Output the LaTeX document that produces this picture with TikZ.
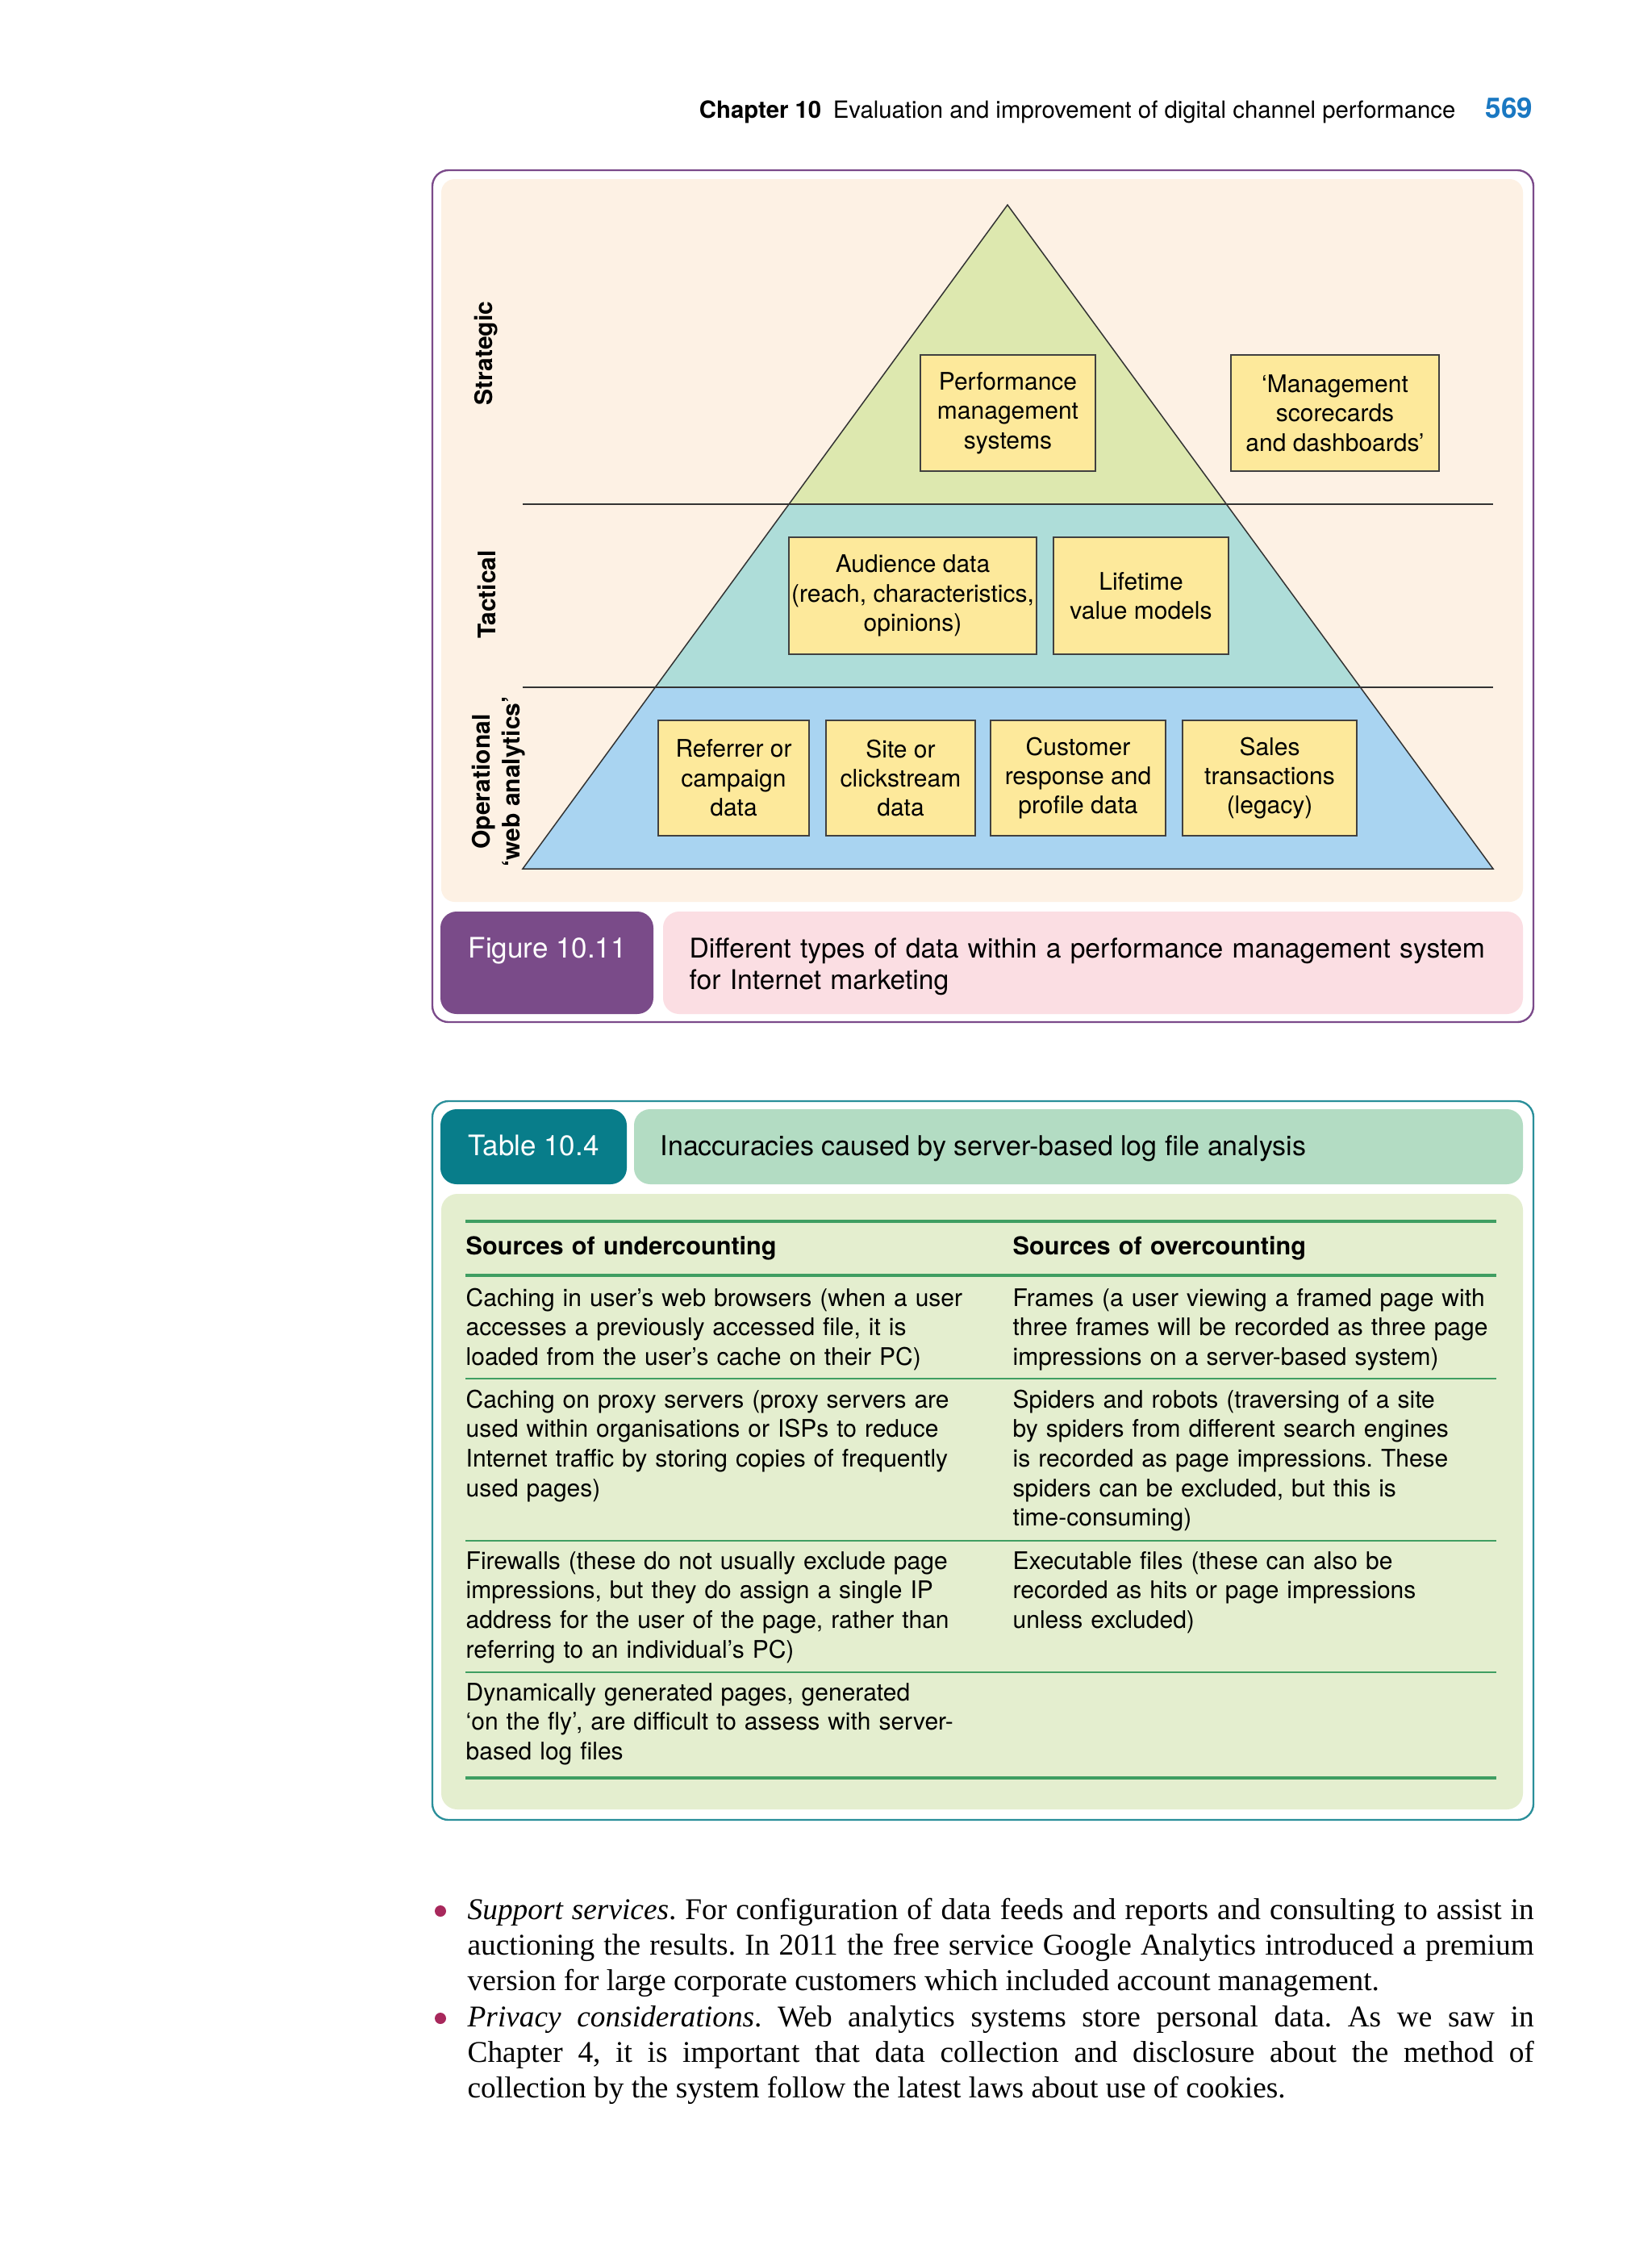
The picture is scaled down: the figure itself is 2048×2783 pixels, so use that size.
\documentclass[tikz,border=0pt]{standalone}
\usepackage{fontspec}
\setmainfont{Liberation Serif}
\newfontfamily\bodyserif{Liberation Serif}[FakeStretch=1.0]
\setsansfont{TeX Gyre Heros}
\definecolor{framepurple}{HTML}{7B4A8A}
\definecolor{labelpurple}{HTML}{7A4B89}
\definecolor{captionpink}{HTML}{FBDEE3}
\definecolor{cream}{HTML}{FDF1E4}
\definecolor{stratgreen}{HTML}{DDE8AF}
\definecolor{tactteal}{HTML}{AEDDD9}
\definecolor{operblue}{HTML}{A9D4F1}
\definecolor{boxyellow}{HTML}{FDE99B}
\definecolor{tealdark}{HTML}{087D8A}
\definecolor{tealframe}{HTML}{2A8F9A}
\definecolor{titlegreen}{HTML}{B3DCC3}
\definecolor{tablebg}{HTML}{E4EECF}
\definecolor{tline}{HTML}{3F9E62}
\definecolor{pagenum}{HTML}{1A78C2}
\definecolor{bulletmag}{HTML}{A8285C}
\begin{document}
\frenchspacing
\begin{tikzpicture}[x=0.3pt,y=-0.3pt,
  databox/.style={draw=black!75, line width=0.45pt, fill=boxyellow, align=center, inner sep=0pt,
    font=\sffamily\fontsize{9}{10.9}\selectfont},
  sidelabel/.style={rotate=90, align=center, font=\sffamily\bfseries\fontsize{9}{11}\selectfont},
  cell/.style={anchor=base west, inner sep=0pt, text width=200pt, align=left,
    font=\sffamily\fontsize{9}{11}\selectfont},
  headcell/.style={cell, font=\sffamily\bfseries\fontsize{9.2}{11}\selectfont},
  thickrule/.style={draw=tline, line width=1.2pt},
  thinrule/.style={draw=tline, line width=0.6pt},
  bullettext/.style={anchor=base west, inner sep=0pt, text width=396.6pt, align=justify,
    font=\frenchspacing\bodyserif\fontsize{11.2}{13.3}\selectfont},
  bulletdot/.style={circle, fill=bulletmag, inner sep=0pt, minimum size=4.2pt}
]
\useasboundingbox (0,0) rectangle (2048,2783);
\fill[white] (0,0) rectangle (2048,2783);

% ---------- running head ----------
\node[anchor=base east, inner sep=0pt, font=\sffamily\fontsize{8.8}{11}\selectfont] (runhead) at (1805,146)
  {\textbf{Chapter 10}\hspace{0.5em}Evaluation and improvement of digital channel performance};
\node[anchor=base east, inner sep=0pt, text=pagenum, font=\sffamily\bfseries\fontsize{10.5}{12}\selectfont] (pgnum) at (1901,146) {569};

% ---------- Figure 10.11 ----------
\draw[framepurple, line width=0.7pt, rounded corners=6pt] (536,211) rectangle (1901,1267);
\fill[cream, rounded corners=5pt] (547,222) rectangle (1888,1118);

\begin{scope}
  \clip (1249,254) -- (1851,1077) -- (648,1077) -- cycle;
  \fill[stratgreen] (600,240) rectangle (1900,625);
  \fill[tactteal] (600,625) rectangle (1900,852);
  \fill[operblue] (600,852) rectangle (1900,1090);
\end{scope}
\draw[black!80, line width=0.45pt] (1249,254) -- (1851,1077) -- (648,1077) -- cycle;
\draw[black!80, line width=0.45pt] (648,625) -- (1851,625);
\draw[black!80, line width=0.45pt] (648,852) -- (1851,852);

\node[sidelabel] (lstrat) at (603,438) {Strategic};
\node[sidelabel] (ltact) at (603,737) {Tactical};
\node[sidelabel] (loper) at (618,969) {Operational\\`web analytics'};

\node[databox, minimum width=65.1pt, minimum height=43.2pt] (perf) at (1249.5,512) {Performance\\management\\systems};
\node[databox, minimum width=77.4pt, minimum height=43.2pt] (mgmt) at (1655,512) {`Management\\scorecards\\and dashboards'};
\node[databox, minimum width=92.1pt, minimum height=43.5pt] (aud) at (1131.5,738.5) {Audience data\\(reach, characteristics,\\opinions)};
\node[databox, minimum width=65.1pt, minimum height=43.5pt] (ltv) at (1414.5,738.5) {Lifetime\\value models};
\node[databox, minimum width=56.1pt, minimum height=42.9pt] (ref) at (909.5,964.5) {Referrer or\\campaign\\data};
\node[databox, minimum width=55.5pt, minimum height=42.9pt] (site) at (1116.5,964.5) {Site or\\clickstream\\data};
\node[databox, minimum width=65.1pt, minimum height=42.9pt] (cust) at (1336.5,964.5) {Customer\\response and\\profile data};
\node[databox, minimum width=64.8pt, minimum height=42.9pt] (sales) at (1574,964.5) {Sales\\transactions\\(legacy)};

\fill[labelpurple, rounded corners=6pt] (546,1130) rectangle (810,1257);
\fill[captionpink, rounded corners=6pt] (822,1130) rectangle (1888,1257);
\node[anchor=base west, inner sep=0pt, text=white, font=\sffamily\fontsize{10.5}{12}\selectfont] (figlabel) at (580,1187) {Figure 10.11};
\node[anchor=base west, inner sep=0pt, text width=310pt, align=left, font=\sffamily\fontsize{10.1}{11.7}\selectfont] (figcap) at (854,1187)
  {Different types of data within a performance management system\\for Internet marketing};

% ---------- Table 10.4 ----------
\draw[tealframe, line width=0.7pt, rounded corners=6pt] (536,1365) rectangle (1901,2256);
\fill[tealdark, rounded corners=6pt] (546,1375) rectangle (777,1468);
\fill[titlegreen, rounded corners=6pt] (786,1375) rectangle (1888,1468);
\fill[tablebg, rounded corners=6pt] (547,1480) rectangle (1888,2243);
\node[anchor=base west, inner sep=0pt, text=white, font=\sffamily\fontsize{10.5}{12}\selectfont] (tablabel) at (580,1432) {Table 10.4};
\node[anchor=base west, inner sep=0pt, font=\sffamily\fontsize{10.2}{12}\selectfont] (tabtitle) at (818,1432) {Inaccuracies caused by server-based log file analysis};

\draw[thickrule] (577,1514) -- (1855,1514);
\draw[thickrule] (577,1581) -- (1855,1581);
\draw[thinrule] (577,1709) -- (1855,1709);
\draw[thinrule] (577,1910) -- (1855,1910);
\draw[thinrule] (577,2073) -- (1855,2073);
\draw[thickrule] (577,2204) -- (1855,2204);

\node[headcell] (h1) at (577,1555) {Sources of undercounting};
\node[headcell] (h2) at (1255,1555) {Sources of overcounting};

\node[cell] (r1a) at (577,1619) {Caching in user's web browsers (when a user\\accesses a previously accessed file, it is\\loaded from the user's cache on their PC)};
\node[cell] (r1b) at (1255,1619) {Frames (a user viewing a framed page with\\three frames will be recorded as three page\\impressions on a server-based system)};
\node[cell] (r2a) at (577,1745) {Caching on proxy servers (proxy servers are\\used within organisations or ISPs to reduce\\Internet traffic by storing copies of frequently\\used pages)};
\node[cell] (r2b) at (1255,1745) {Spiders and robots (traversing of a site\\by spiders from different search engines\\is recorded as page impressions. These\\spiders can be excluded, but this is\\time-consuming)};
\node[cell] (r3a) at (577,1945) {Firewalls (these do not usually exclude page\\impressions, but they do assign a single IP\\address for the user of the page, rather than\\referring to an individual's PC)};
\node[cell] (r3b) at (1255,1945) {Executable files (these can also be\\recorded as hits or page impressions\\unless excluded)};
\node[cell] (r4a) at (577,2108) {Dynamically generated pages, generated\\`on the fly', are difficult to assess with server-\\based log files};

% ---------- bullets ----------
\node[bulletdot] (b1) at (546,2369) {};
\node[bullettext] (t1) at (579,2379) {\textit{Support services}. For configuration of data feeds and reports and consulting to assist in\linebreak auctioning the results. In 2011 the free service Google Analytics introduced a premium\linebreak version for large corporate customers which included account management.};
\node[bulletdot] (b2) at (546,2502) {};
\node[bullettext] (t2) at (579,2512) {\textit{Privacy considerations}. Web analytics systems store personal data. As we saw in\linebreak Chapter 4, it is important that data collection and disclosure about the method of\linebreak collection by the system follow the latest laws about use of cookies.};
\end{tikzpicture}
\end{document}
